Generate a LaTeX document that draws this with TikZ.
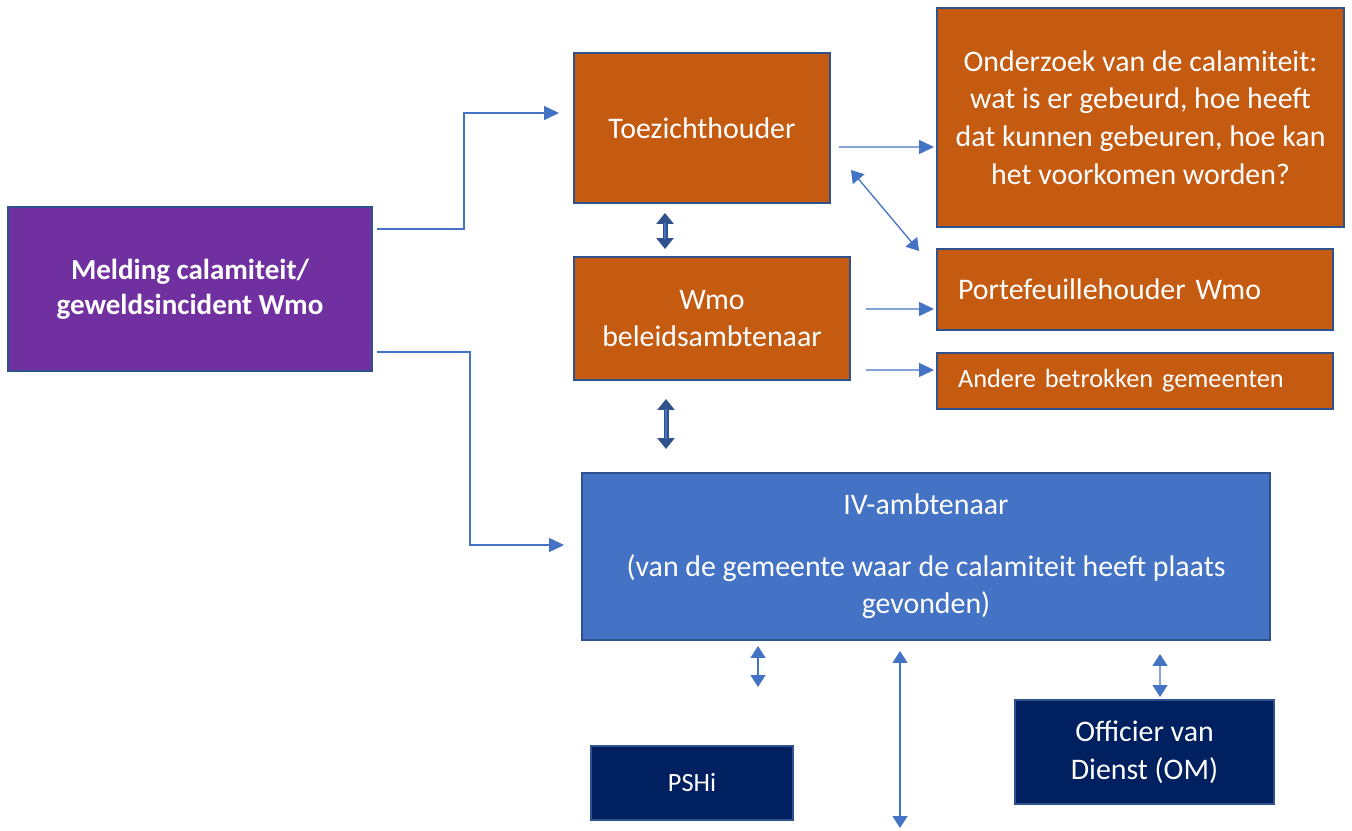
\documentclass[tikz,border=0pt]{standalone}
\usepackage{fontspec}
\setmainfont{Carlito}
\usetikzlibrary{positioning}
\usetikzlibrary{calc}
\usetikzlibrary{arrows.meta}

\definecolor{meldingPurple}{HTML}{7030A0}
\definecolor{wmoOrange}{HTML}{C55A11}
\definecolor{ivBlue}{HTML}{4472C4}
\definecolor{omNavy}{HTML}{002060}
\definecolor{edgeBlue}{HTML}{2F528F}

\begin{document}
\begin{tikzpicture}[x=0.02cm, y=-0.02cm]
		\tikzstyle{elem} = [rectangle, draw=edgeBlue, line width=0.04cm, text=white, align=center, font=\fontsize{17}{21.5}\selectfont]
		\tikzstyle{orangeElem} = [elem, fill=wmoOrange]
		\tikzstyle{wideElem} = [orangeElem, align=left, text width=7.08cm, inner xsep=0.42cm]
		\tikzstyle{navyElem} = [elem, fill=omNavy]
		\tikzstyle{link} = [-{Triangle[length=0.3cm, width=0.28cm]}, ivBlue, line width=0.026cm]
		\tikzstyle{twoWay} = [{Triangle[length=0.24cm, width=0.3cm]}-{Triangle[length=0.24cm, width=0.3cm]}, ivBlue, line width=0.026cm]
		\tikzstyle{fatTwoWay} = [{Triangle[length=0.22cm, width=0.34cm]}-{Triangle[length=0.22cm, width=0.34cm]}, edgeBlue, line width=0.1cm]
		\tikzstyle{fatInner} = [ivBlue, line width=0.035cm, shorten <=0.2cm, shorten >=0.2cm]

		\useasboundingbox (0,0) rectangle (1352,831);

		\node (melding) [elem, fill=meldingPurple, minimum width=7.28cm, minimum height=3.28cm, font=\fontsize{16.5}{20}\selectfont\bfseries] at (190,289) {Melding calamiteit/\\geweldsincident Wmo};
		\node (toezichthouder) [orangeElem, minimum width=5.12cm, minimum height=3cm] at (702,128) {Toezichthouder};
		\node (onderzoek) [orangeElem, minimum width=8.14cm, minimum height=4.38cm] at (1140.5,117.5) {Onderzoek van de calamiteit:\\wat is er gebeurd, hoe heeft\\dat kunnen gebeuren, hoe kan\\het voorkomen worden?};
		\node (wmoAmbtenaar) [orangeElem, minimum width=5.52cm, minimum height=2.46cm] at (712,318.5) {Wmo\\beleidsambtenaar};
		\node (portefeuille) [wideElem, minimum height=1.62cm] at (1135,289.5) {Portefeuillehouder Wmo};
		\node (andereGemeenten) [wideElem, minimum height=1.12cm, font=\fontsize{15}{18}\selectfont] at (1135,381) {Andere betrokken gemeenten};
		\node (ivAmbtenaar) [elem, fill=ivBlue, minimum width=13.76cm, minimum height=3.34cm] at (926,556.5) {IV-ambtenaar\\[13.5pt](van de gemeente waar de calamiteit heeft plaats\\gevonden)};
		\node (pshi) [navyElem, minimum width=4.04cm, minimum height=1.48cm, font=\fontsize{15}{18}\selectfont] at (692,783) {PSHi};
		\node (officier) [navyElem, minimum width=5.18cm, minimum height=2.08cm] at (1144.5,752) {Officier van\\Dienst (OM)};
		\coordinate (lowEnd) at (900,828);

		\draw [link] ($(melding.east)+(4,-60)$) -| ($(toezichthouder.west)+(-109,-15)$) -- ($(toezichthouder.west)+(-14,-15)$);
		\draw [link] ($(melding.east)+(4,63)$) -| ($(ivAmbtenaar.west)+(-111,-11.5)$) -- ($(ivAmbtenaar.west)+(-17,-11.5)$);
		\draw [link] ($(toezichthouder.east)+(8,19)$) -- ($(onderzoek.west)+(-2,29.5)$);
		\draw [twoWay] ($(toezichthouder.east)+(20,42)$) -- ($(portefeuille.north west)+(-17,3)$);
		\draw [link] ($(wmoAmbtenaar.east)+(15,-9.5)$) -- ($(portefeuille.west)+(-2,19.5)$);
		\draw [link] ($(wmoAmbtenaar.east)+(15,51.5)$) -- ($(andereGemeenten.west)+(-2,-11)$);

		\draw [fatTwoWay] ($(toezichthouder.south)+(-37,9)$) -- ($(wmoAmbtenaar.north)+(-47,-7)$);
		\draw [fatInner] ($(toezichthouder.south)+(-37,9)$) -- ($(wmoAmbtenaar.north)+(-47,-7)$);
		\draw [fatTwoWay] ($(wmoAmbtenaar.south)+(-46,18)$) -- ($(ivAmbtenaar.north)+(-260,-23)$);
		\draw [fatInner] ($(wmoAmbtenaar.south)+(-46,18)$) -- ($(ivAmbtenaar.north)+(-260,-23)$);

		\draw [twoWay] ($(ivAmbtenaar.south)+(-168,5)$) -- ($(pshi.north)+(66,-58)$);
		\draw [twoWay] ($(ivAmbtenaar.south)+(-26,10)$) -- (lowEnd);
		\draw [twoWay] ($(ivAmbtenaar.south)+(234,13)$) -- ($(officier.north)+(15.5,-2)$);
	\end{tikzpicture}
\end{document}
